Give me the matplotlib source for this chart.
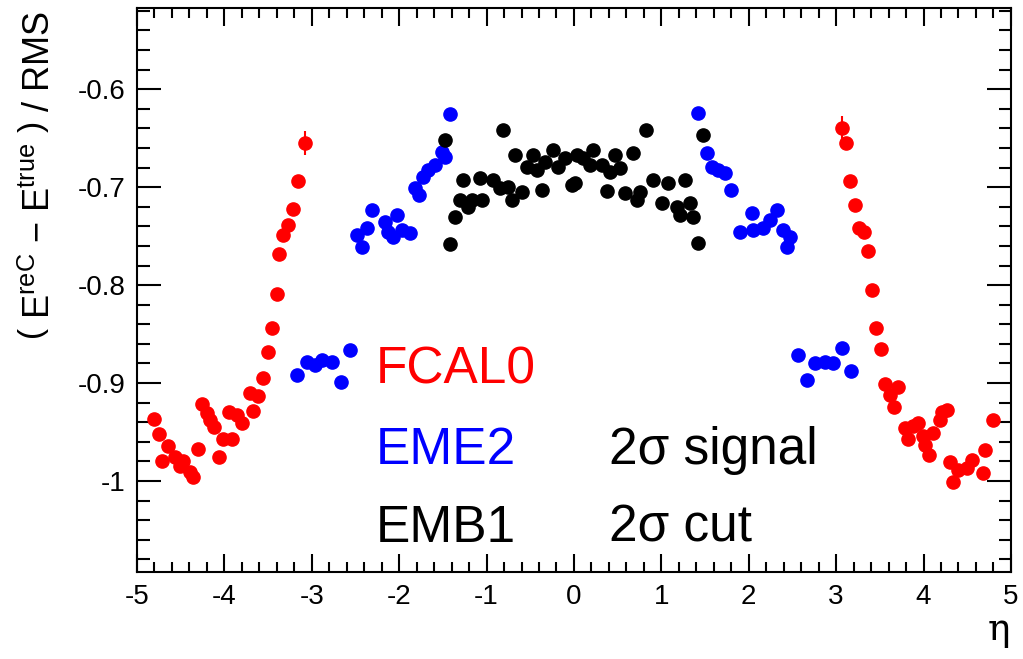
import matplotlib
matplotlib.use('Agg')
import matplotlib.pyplot as plt
from matplotlib.ticker import MultipleLocator, FixedLocator, FixedFormatter

plt.rcParams['font.family'] = ['Liberation Sans', 'DejaVu Sans']
plt.rcParams['axes.unicode_minus'] = False
plt.rcParams['mathtext.fontset'] = 'custom'
plt.rcParams['mathtext.rm'] = 'Liberation Sans'
plt.rcParams['mathtext.it'] = 'Liberation Sans:italic'

# FCAL0 (red)
fcal_eta = [-4.805, -4.748, -4.714, -4.645, -4.565, -4.508, -4.474, -4.394, -4.359, -4.302,
            -4.256, -4.199, -4.165, -4.119, -4.062, -4.016, -3.913, -3.947, -3.856, -3.799,
            -3.673, -3.707, -3.616, -3.558, -3.501, -3.455, -3.398, -3.375, -3.330, -3.272,
            -3.215, -3.158, -3.078,
            3.066, 3.112, 3.158, 3.215, 3.261, 3.318, 3.364, 3.410, 3.455, 3.513,
            3.558, 3.707, 3.616, 3.661, 4.211, 4.268, 4.188, 3.787, 3.936, 4.108,
            3.822, 4.016, 4.062, 4.302, 4.394, 4.336, 4.554, 4.703, 4.680, 4.794,
            4.497, 3.879, 3.993]
fcal_val = [-0.9367, -0.9520, -0.9796, -0.9643, -0.9755, -0.9847, -0.9796, -0.9909, -0.9960, -0.9673,
            -0.9214, -0.9306, -0.9377, -0.9449, -0.9755, -0.9571, -0.9571, -0.9295, -0.9326, -0.9408,
            -0.9285, -0.9101, -0.9132, -0.8949, -0.8682, -0.8437, -0.8090, -0.7681, -0.7487, -0.7385,
            -0.7222, -0.6936, -0.6548,
            -0.6397, -0.6548, -0.6936, -0.7181, -0.7416, -0.7457, -0.7651, -0.8049, -0.8437, -0.8651,
            -0.9009, -0.9040, -0.9121, -0.9244, -0.9295, -0.9275, -0.9377, -0.9459, -0.9408, -0.9510,
            -0.9571, -0.9632, -0.9734, -0.9806, -0.9888, -1.0010, -0.9786, -0.9683, -0.9918, -0.9377,
            -0.9867, -0.9438, -0.9541]

# points with visible error bars
err_eta = [-3.078, 3.066]
err_val = [-0.6548, -0.6397]
err_size = [0.012, 0.012]

# EME2 (blue)
eme_eta = [-1.419, -1.510, -1.476, -1.590, -1.670, -1.728, -1.819, -1.773, -2.311, -2.025,
           -2.162, -2.368, -2.483, -2.426, -2.128, -2.071, -1.968, -1.876,
           -2.563, -3.058, -2.963, -2.887, -2.772, -3.173, -2.666,
           1.419, 1.522, 1.579, 1.648, 1.728, 1.796, 2.037, 2.323, 2.243, 1.899,
           2.048, 2.162, 2.391, 2.471, 2.437,
           2.563, 2.666, 2.757, 2.872, 2.963, 3.066, 3.169]
eme_val = [-0.6252, -0.6640, -0.6691, -0.6773, -0.6824, -0.6896, -0.7008, -0.7080, -0.7232, -0.7283,
           -0.7355, -0.7416, -0.7487, -0.7610, -0.7457, -0.7508, -0.7436, -0.7467,
           -0.8661, -0.8781, -0.8815, -0.8764, -0.8781, -0.8917, -0.8986,
           -0.6243, -0.6651, -0.6793, -0.6824, -0.6855, -0.7028, -0.7263, -0.7232, -0.7334, -0.7457,
           -0.7436, -0.7416, -0.7436, -0.7508, -0.7610,
           -0.8713, -0.8968, -0.8795, -0.8785, -0.8795, -0.8642, -0.8876]

# EMB1 (black)
emb_eta = [-1.476, -0.812, -1.419, -1.362, -1.304, -1.270, -1.213, -1.167, -1.076, -1.053,
           -0.927, -0.847, -0.755, -0.709, -0.595, -0.675, -0.538, -0.469, -0.423, -0.366,
           -0.332, -0.240, -0.183, -0.103, -0.023,
           0.011, 0.034, 0.103, 0.217, 0.183, 0.320, 0.412, 0.469, 0.526, 0.675,
           0.824, 0.378, 0.584, 0.721, 0.755, 0.904, 1.007, 1.076, 1.178, 1.270,
           1.213, 1.327, 1.362, 1.419, 1.476]
emb_val = [-0.6517, -0.6415, -0.7579, -0.7303, -0.7130, -0.6926, -0.7201, -0.7130, -0.6906, -0.7130,
           -0.6926, -0.7007, -0.6997, -0.7130, -0.7048, -0.6670, -0.6793, -0.6670, -0.6824, -0.7028,
           -0.6742, -0.6619, -0.6793, -0.6701, -0.6977,
           -0.6957, -0.6670, -0.6701, -0.6619, -0.6773, -0.6773, -0.6844, -0.6670, -0.6803, -0.6650,
           -0.6415, -0.7038, -0.7058, -0.7130, -0.7048, -0.6926, -0.7160, -0.6957, -0.7201, -0.6926,
           -0.7283, -0.7160, -0.7303, -0.7569, -0.6466]

y_ticks = [-1.0, -0.9, -0.8, -0.7, -0.6]
y_labels = ['-1', '-0.9', '-0.8', '-0.7', '-0.6']
x_ticks = [-5, -4, -3, -2, -1, 0, 1, 2, 3, 4, 5]
x_labels = ['-5', '-4', '-3', '-2', '-1', '0', '1', '2', '3', '4', '5']

fig = plt.figure(figsize=(10.23, 6.59), dpi=100)
ax = fig.add_axes([0.1339, 0.1325, 0.8543, 0.8554])

ms = 9.5
ax.errorbar(err_eta, err_val, yerr=err_size, fmt='none', ecolor='red', elinewidth=1.5, zorder=2)
ax.plot(fcal_eta, fcal_val, 'o', color='red', ms=ms, mec='red', zorder=3)
ax.plot(eme_eta, eme_val, 'o', color='blue', ms=ms, mec='blue', zorder=3)
ax.plot(emb_eta, emb_val, 'o', color='black', ms=ms, mec='black', zorder=3)

ax.set_xlim(-5, 5)
ax.set_ylim(-1.0926, -0.517)

ax.xaxis.set_major_locator(FixedLocator(x_ticks))
ax.xaxis.set_major_formatter(FixedFormatter(x_labels))
ax.xaxis.set_minor_locator(MultipleLocator(0.2))
ax.yaxis.set_major_locator(FixedLocator(y_ticks))
ax.yaxis.set_major_formatter(FixedFormatter(y_labels))
ax.yaxis.set_minor_locator(MultipleLocator(0.02))

ax.tick_params(axis='both', which='both', direction='in', top=True, right=True,
               width=1.5, labelsize=20)
ax.tick_params(axis='x', which='major', length=13, pad=9)
ax.tick_params(axis='x', which='minor', length=7)
ax.tick_params(axis='y', which='major', length=17, pad=8)
ax.tick_params(axis='y', which='minor', length=9)
for s in ax.spines.values():
    s.set_linewidth(1.5)

# labels
fig.text(40 / 1023, 1 - 11 / 659,
         r'$\left(\ \mathrm{E}^{\mathrm{reC}}\ \mathrm{-}\ \mathrm{E}^{\mathrm{true}}\ \right)$ / RMS',
         rotation=90, ha='center', va='top', fontsize=26)
fig.text(1010 / 1023, 1 - 640 / 659, 'η', ha='right', va='baseline', fontsize=27,
         family=['DejaVu Serif'])

# legend-like text
ax.text(-2.265, -0.9009, 'FCAL0', color='red', fontsize=37)
ax.text(-2.265, -0.9826, 'EME2', color='blue', fontsize=37)
ax.text(-2.265, -1.062, 'EMB1', color='black', fontsize=37)
ax.text(0.40, -0.9826, '2σ signal', color='black', fontsize=37)
ax.text(0.40, -1.062, '2σ cut', color='black', fontsize=37)

fig.savefig('out.png', dpi=100)
